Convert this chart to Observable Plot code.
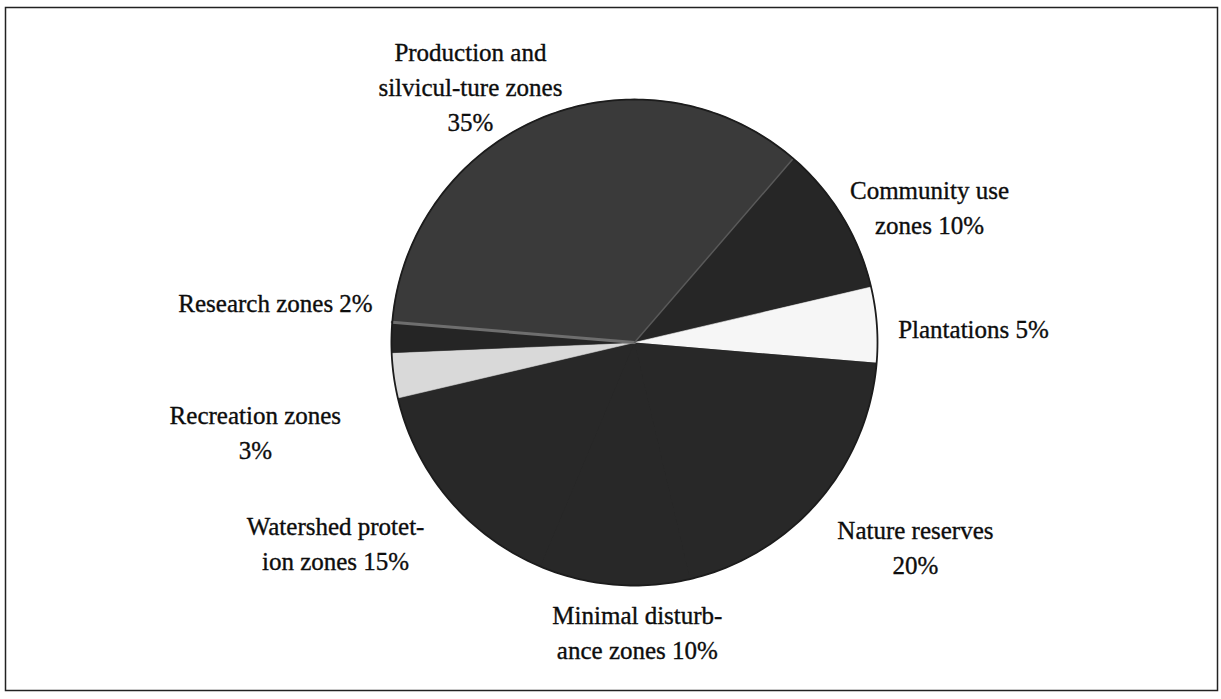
<!DOCTYPE html>
<html><head><meta charset="utf-8">
<script src="https://cdn.jsdelivr.net/npm/d3@7"></script>
<script src="https://cdn.jsdelivr.net/npm/@observablehq/plot@0.6"></script>
<style>html,body{margin:0;padding:0;background:#fff;}</style>
</head><body><div id="chart"></div>
<script>
// ---- data ----
const categories = [
  "Production and silvicul-ture zones",
  "Community use zones",
  "Plantations",
  "Nature reserves",
  "Minimal disturbance zones",
  "Watershed protetion zones",
  "Recreation zones",
  "Research zones"
];
const shares = [35, 10, 5, 20, 10, 15, 3, 2];
const labels = [
  "Production and\nsilvicul-ture zones\n35%",
  "Community use\nzones 10%",
  "Plantations 5%",
  "Nature reserves\n20%",
  "Minimal disturb-\nance zones 10%",
  "Watershed protet-\nion zones 15%",
  "Recreation zones\n3%",
  "Research zones 2%"
];

// ---- layout / style ----
const shades = ["#3a3a3a", "#262626", "#f6f6f6", "#282828", "#282828", "#282828", "#d9d9d9", "#252525"];
const startAngle = -85.2; // degrees, clockwise from 12 o'clock
const labelPos = [
  [-0.675, 1.060], [1.214, 0.566], [1.395, 0.066], [1.156, -0.835],
  [0.012, -1.185], [-1.230, -0.819], [-1.560, -0.360], [-1.477, 0.173]
];

const total = d3.sum(shares);
const rad = (deg) => deg * Math.PI / 180;
let acc = startAngle;
const slices = shares.map((v, i) => {
  const a0 = acc, a1 = acc + v / total * 360;
  acc = a1;
  const pts = [{x: 0, y: 0}];
  const n = Math.max(2, Math.ceil((a1 - a0) / 0.5));
  for (let k = 0; k <= n; k++) {
    const a = rad(a0 + (a1 - a0) * k / n);
    pts.push({x: Math.sin(a), y: Math.cos(a)});
  }
  pts.push({x: 0, y: 0});
  return {name: categories[i], fill: shades[i], a0, a1, pts};
});

const circle = d3.range(0, 361, 1).map(d => ({x: Math.sin(rad(d)), y: Math.cos(rad(d))}));
const labelRows = labels.map((t, i) => ({text: t, x: labelPos[i][0], y: labelPos[i][1]}));
const edge = slices[0];
const prodEdge = [{x: 0, y: 0}, {x: Math.sin(rad(edge.a0)), y: Math.cos(rad(edge.a0))}];
const prodEdge2 = [{x: 0, y: 0}, {x: Math.sin(rad(edge.a1)), y: Math.cos(rad(edge.a1))}];

const marks = [];
// dark base disc hides anti-aliasing seams between equally dark slices
marks.push(Plot.line(circle, {x: "x", y: "y", fill: "#282828", stroke: "none"}));
slices.forEach(s => {
  marks.push(Plot.line(s.pts, {x: "x", y: "y", fill: s.fill, stroke: s.fill === "#282828" ? "none" : s.fill, strokeWidth: 0.6, curve: "linear"}));
});
marks.push(Plot.line(prodEdge, {x: "x", y: "y", stroke: "#6e6e6e", strokeWidth: 3}));
marks.push(Plot.line(prodEdge2, {x: "x", y: "y", stroke: "#5a5a5a", strokeWidth: 1.5}));
marks.push(Plot.line(circle, {x: "x", y: "y", stroke: "#1c1c1c", strokeWidth: 1.8}));
marks.push(Plot.text(labelRows, {x: "x", y: "y", text: "text", fontSize: 25, lineHeight: 1.4, fill: "#0d0d0d", stroke: "#0d0d0d", strokeWidth: 0.35, textAnchor: "middle"}));
marks.push(Plot.frame({stroke: "#222", strokeWidth: 1.5}));

const chart = Plot.plot({
  width: 1221,
  height: 699,
  marginTop: 7,
  marginBottom: 9,
  marginLeft: 5,
  marginRight: 4,
  x: {domain: [-2.588, 2.399], axis: null},
  y: {domain: [-1.432, 1.3786], axis: null},
  style: {fontFamily: "'Liberation Serif', 'Times New Roman', serif", background: "white", overflow: "visible"},
  marks
});
document.getElementById("chart").appendChild(chart);
</script>
</body></html>
